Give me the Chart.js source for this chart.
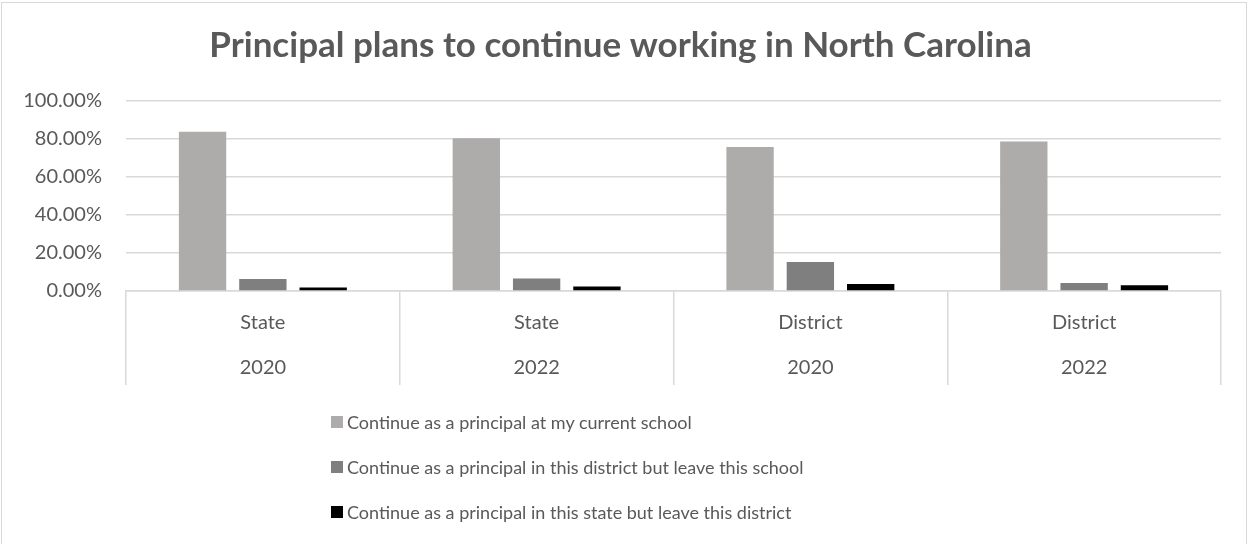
<!DOCTYPE html>
<html>
<head>
<meta charset="utf-8">
<script src="https://cdn.jsdelivr.net/npm/chart.js@4.4.1/dist/chart.umd.min.js"></script>
<style>
    html, body {
        margin: 0;
        padding: 0;
        background: #fff;
        overflow: hidden;
    }
    #wrap {
        position: relative;
        width: 1250px;
        height: 544px;
    }
    #frame {
        position: absolute;
        left: 1px;
        top: 2px;
        width: 1246px;
        height: 600px;
        border: 1.5px solid #d9d9d9;
        box-sizing: border-box;
        pointer-events: none;
    }
    #principalChart {
        position: absolute;
        left: 0;
        top: 0;
    }
    #legend {
        position: absolute;
        left: 331px;
        top: 399px;
        font-family: Lato, sans-serif;
        font-size: 18px;
        color: #595959;
    }
    #legend .item {
        height: 45px;
        display: flex;
        align-items: center;
    }
    #legend .box {
        width: 12px;
        height: 12px;
        margin-right: 4px;
        flex: none;
    }
</style>
</head>
<body>
<div id="wrap">
    <canvas id="principalChart" width="1250" height="544"></canvas>
    <div id="legend"></div>
    <div id="frame"></div>
</div>
<script>
const regions = ['State', 'State', 'District', 'District'];
const years = ['2020', '2022', '2020', '2022'];

const seriesNames = [
    'Continue as a principal at my current school',
    'Continue as a principal in this district but leave this school',
    'Continue as a principal in this state but leave this district'
];
const currentSchool = [83.5, 80.2, 75.5, 78.5];
const sameDistrict = [6.3, 6.5, 15.2, 4.2];
const sameState = [1.9, 2.3, 3.7, 3.0];
const seriesColors = ['#aeabab', '#7f7f7f', '#000000'];

const yTicks = [0, 20, 40, 60, 80, 100];

const textColor = '#595959';
const lineColor = '#d9d9d9';
const fontFamily = 'Lato, sans-serif';

const labels = regions.map((r, i) => [r, years[i]]);
const values = [currentSchool, sameDistrict, sameState];

const chart = new Chart(document.getElementById('principalChart').getContext('2d'), {
    type: 'bar',
    data: {
        labels: labels,
        datasets: values.map((data, i) => ({
            label: seriesNames[i],
            data: data,
            backgroundColor: seriesColors[i],
            borderWidth: 0,
            categoryPercentage: 0.661,
            barPercentage: 0.785
        }))
    },
    options: {
        responsive: false,
        animation: false,
        layout: {
            // some left padding so the title sits near the canvas centre
            padding: { left: 20, right: 29, top: 0, bottom: 159 }
        },
        plugins: {
            legend: { display: false },
            tooltip: { enabled: false },
            title: {
                display: true,
                text: 'Principal plans to continue working in North Carolina',
                color: textColor,
                font: { family: fontFamily, size: 35, weight: 'bold', lineHeight: 1.2 },
                padding: { top: 25, bottom: 33.4 }
            }
        },
        scales: {
            x: {
                grid: {
                    display: true,
                    drawOnChartArea: false,
                    drawTicks: true,
                    tickLength: 94,
                    color: lineColor,
                    lineWidth: 1.5,
                    offset: true
                },
                border: { display: true, color: lineColor, width: 1.5 },
                ticks: {
                    color: textColor,
                    font: { family: fontFamily, size: 20, lineHeight: 45 / 20 },
                    padding: -84.5,
                    maxRotation: 0,
                    autoSkip: false
                },
                afterFit: function(scale) {
                    scale.height = 94;
                }
            },
            y: {
                min: 0,
                max: 100,
                afterBuildTicks: function(scale) {
                    scale.ticks = yTicks.map(v => ({ value: v }));
                },
                grid: {
                    color: lineColor,
                    lineWidth: 1.5,
                    drawTicks: false
                },
                border: { display: false },
                ticks: {
                    color: textColor,
                    font: { family: fontFamily, size: 20 },
                    padding: 24,
                    callback: function(value) {
                        return value.toFixed(2) + '%';
                    }
                },
                afterFit: function(scale) {
                    scale.width = 106;
                }
            }
        }
    }
});

// legend stacked under the axis, one series per row
const legendEl = document.getElementById('legend');
chart.data.datasets.forEach(ds => {
    const item = document.createElement('div');
    item.className = 'item';
    item.innerHTML = `<span class="box" style="background:${ds.backgroundColor}"></span><span>${ds.label}</span>`;
    legendEl.appendChild(item);
});
</script>
</body>
</html>
